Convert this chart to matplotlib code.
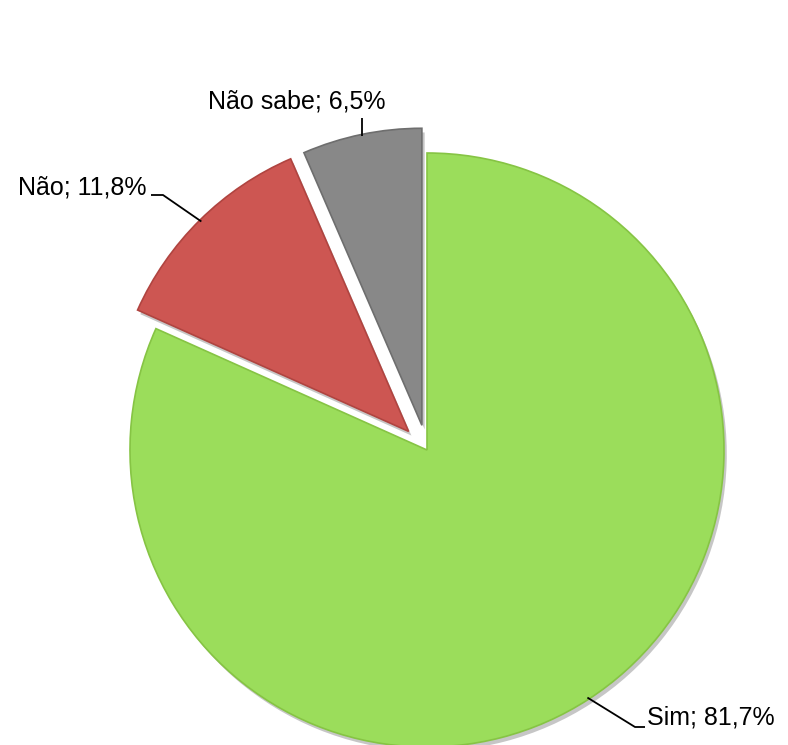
import numpy as np
import matplotlib
matplotlib.use("Agg")
import matplotlib.pyplot as plt
import matplotlib.patheffects as pe

# data
labels = ["Sim", "Não", "Não sabe"]
values = [81.7, 11.8, 6.5]
explode_frac = [0.0, 0.088, 0.085]
colors = ["#9BDD5B", "#CD5652", "#888888"]
edge_colors = ["#86C444", "#B04440", "#6E6E6E"]

# label text positions (pixel coords of the 788x745 canvas, y from top)
text_pos = {"Sim": (647, 717), "Não": (147, 188), "Não sabe": (297, 102)}
text_ha = {"Sim": "left", "Não": "right", "Não sabe": "center"}

W, H = 788, 745
CX, CY, R = 427, 450, 297

plt.rcParams['font.family'] = ['Liberation Sans', 'DejaVu Sans']

fig = plt.figure(figsize=(W / 100, H / 100), dpi=100)
ax = fig.add_axes([0, 0, 1, 1])

wedges, _ = ax.pie(values, explode=[e * R for e in explode_frac], colors=colors,
                   startangle=90, counterclock=False, radius=R,
                   center=(CX, H - CY),
                   wedgeprops=dict(linewidth=1.2))
for w, ec in zip(wedges, edge_colors):
    w.set_edgecolor(ec)
    w.set_path_effects([pe.SimplePatchShadow(offset=(2, -3), alpha=0.3, shadow_rgbFace='#444444'),
                        pe.Normal()])

ax.set_xlim(0, W)
ax.set_ylim(0, H)
ax.set_aspect('equal')
ax.axis('off')

# labels with leader lines from the wedge's middle to the text
for w, lab, v in zip(wedges, labels, values):
    th = np.deg2rad((w.theta1 + w.theta2) / 2)
    cx, cy = w.center
    ax_x = cx + (R - 2) * np.cos(th)
    ax_y = cy + (R - 2) * np.sin(th)
    tx, ty = text_pos[lab]
    ty = H - ty
    txt = f"{lab}; {v:.1f}%".replace(".", ",")
    ax.text(tx, ty, txt, fontsize=18, ha=text_ha[lab], va='center', color='black')
    if text_ha[lab] == "center":
        pts_x = [ax_x, ax_x]
        pts_y = [ax_y, ty - 16]
    elif text_ha[lab] == "right":
        pts_x = [ax_x, tx + 16, tx + 4]
        pts_y = [ax_y, ty - 7, ty - 7]
    else:
        pts_x = [ax_x, tx - 12, tx - 2]
        pts_y = [ax_y, ty - 10, ty - 10]
    ax.plot(pts_x, pts_y, color='black', linewidth=1.3, solid_capstyle='butt')

fig.savefig("out.png", dpi=100)
